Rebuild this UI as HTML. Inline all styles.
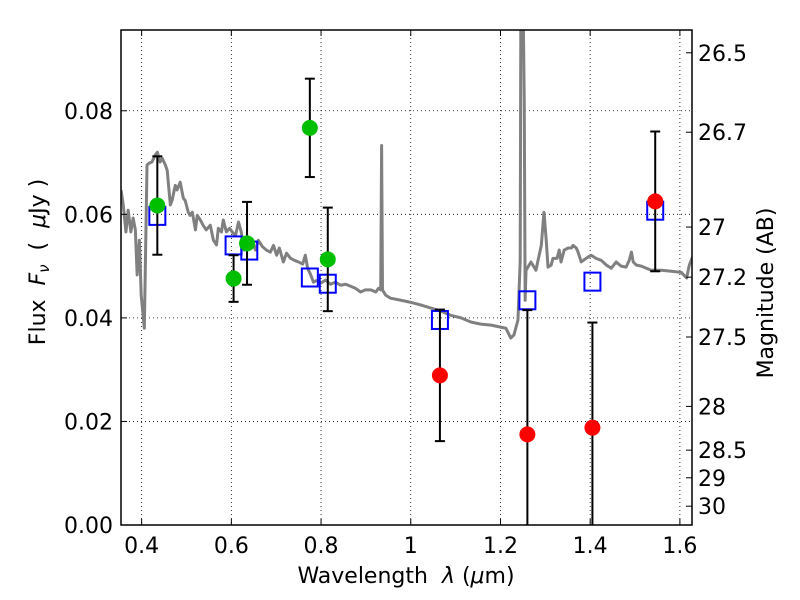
<!DOCTYPE html>
<html><head><meta charset="utf-8"><style>
html,body{margin:0;background:#fff;width:800px;height:600px;overflow:hidden;}
svg text{font-family:"DejaVu Sans","Liberation Sans",sans-serif;}
</style></head><body>
<svg id="c" width="800" height="600" style="position:absolute;left:0;top:0" xmlns="http://www.w3.org/2000/svg"></svg>
<script>
const specLam=[0.354,0.359,0.365,0.370,0.376,0.381,0.386,0.390,0.395,0.399,0.406,0.412,0.417,0.423,0.430,0.435,0.441,0.446,0.453,0.457,0.464,0.468,0.475,0.479,0.486,0.493,0.497,0.504,0.508,0.513,0.520,0.524,0.531,0.537,0.544,0.553,0.560,0.567,0.571,0.578,0.582,0.589,0.596,0.602,0.609,0.616,0.622,0.629,0.634,0.640,0.647,0.654,0.660,0.669,0.678,0.687,0.694,0.701,0.707,0.716,0.723,0.732,0.741,0.750,0.759,0.765,0.770,0.777,0.783,0.792,0.799,0.810,0.821,0.832,0.844,0.855,0.866,0.877,0.888,0.899,0.911,0.922,0.928,0.933,0.935,0.937,0.944,0.955,0.978,1.000,1.022,1.045,1.067,1.089,1.112,1.134,1.156,1.179,1.212,1.223,1.230,1.239,1.244,1.246,1.248,1.253,1.255,1.257,1.268,1.279,1.291,1.297,1.302,1.306,1.313,1.317,1.326,1.331,1.335,1.342,1.351,1.358,1.362,1.369,1.373,1.380,1.391,1.402,1.413,1.425,1.436,1.447,1.458,1.469,1.480,1.487,1.492,1.496,1.503,1.514,1.536,1.559,1.581,1.603,1.615,1.621,1.630];
const specFlux=[0.0647,0.0618,0.0566,0.0608,0.0566,0.0593,0.0570,0.0483,0.0550,0.0444,0.0380,0.0695,0.0699,0.0701,0.0714,0.0720,0.0701,0.0708,0.0695,0.0685,0.0618,0.0627,0.0656,0.0647,0.0662,0.0631,0.0627,0.0604,0.0598,0.0604,0.0570,0.0598,0.0589,0.0579,0.0570,0.0579,0.0550,0.0541,0.0573,0.0566,0.0589,0.0566,0.0573,0.0566,0.0558,0.0585,0.0566,0.0531,0.0544,0.0554,0.0546,0.0531,0.0550,0.0538,0.0531,0.0527,0.0540,0.0521,0.0535,0.0508,0.0525,0.0515,0.0511,0.0508,0.0504,0.0521,0.0496,0.0483,0.0469,0.0473,0.0467,0.0473,0.0465,0.0469,0.0463,0.0465,0.0461,0.0457,0.0450,0.0454,0.0454,0.0450,0.0457,0.0454,0.0733,0.0454,0.0444,0.0438,0.0434,0.0430,0.0425,0.0419,0.0413,0.0405,0.0400,0.0392,0.0388,0.0386,0.0380,0.0361,0.0367,0.0396,0.0511,0.12,0.12,0.082,0.0434,0.0492,0.0508,0.0492,0.0540,0.0604,0.0550,0.0498,0.0502,0.0515,0.0515,0.0531,0.0508,0.0531,0.0535,0.0535,0.0540,0.0535,0.0527,0.0508,0.0515,0.0521,0.0515,0.0511,0.0502,0.0496,0.0508,0.0500,0.0498,0.0511,0.0527,0.0508,0.0502,0.0500,0.0492,0.0492,0.0490,0.0488,0.0477,0.0502,0.0521];
const greenLam=[0.435,0.605,0.635,0.775,0.815];
const greenFlux=[0.0617,0.0476,0.0544,0.0767,0.0513];
const greenErr=[0.0095,0.0045,0.0080,0.0095,0.0100];
const redLam=[1.065,1.26,1.405,1.545];
const redFlux=[0.0289,0.0175,0.0188,0.0625];
const redErr=[0.0127,0.0240,0.0203,0.0135];
const modelLam=[0.435,0.605,0.64,0.775,0.815,1.065,1.26,1.405,1.545];
const modelFlux=[0.0597,0.0540,0.0530,0.0478,0.0466,0.0396,0.0434,0.0470,0.0607];
const xTicks=[0.4,0.6,0.8,1.0,1.2,1.4,1.6];
const xTickLabels=["0.4","0.6","0.8","1","1.2","1.4","1.6"];
const yTicks=[0,0.02,0.04,0.06,0.08];
const yTickLabels=["0.00","0.02","0.04","0.06","0.08"];
const magTicks=[26.5,26.7,27,27.2,27.5,28,28.5,29,30];
const magTickLabels=["26.5","26.7","27","27.2","27.5","28","28.5","29","30"];

const L=121,R=692,T=30,B=525,X0=0.354,X1=1.627,Y0=0,Y1=0.0956;
const sx=v=>L+(v-X0)/(X1-X0)*(R-L);
const sy=v=>B-(v-Y0)/(Y1-Y0)*(B-T);
const magFlux=m=>Math.pow(10,(23.9-m)/2.5);
const svg=document.getElementById('c');
const NS="http://www.w3.org/2000/svg";
function mk(tag,attrs,parent){const e=document.createElementNS(NS,tag);for(const k in attrs)e.setAttribute(k,attrs[k]);(parent||svg).appendChild(e);return e;}

const defs=mk('defs',{});
const cp=mk('clipPath',{id:'clip'},defs);mk('rect',{x:L,y:T,width:R-L,height:B-T},cp);

const grid=mk('g',{});


xTicks.forEach(t=>{mk('line',{x1:sx(t),x2:sx(t),y1:T,y2:B,stroke:'#000','stroke-width':0.8,'stroke-dasharray':'1,3'},grid);});
yTicks.forEach(t=>{mk('line',{x1:L,x2:R,y1:sy(t),y2:sy(t),stroke:'#000','stroke-width':0.8,'stroke-dasharray':'1,3'},grid);});

const sp=mk('polyline',{points:specLam.map((l,i)=>sx(l)+','+sy(specFlux[i])).join(' '),fill:'none',stroke:'#808080','stroke-width':3,'clip-path':'url(#clip)','stroke-linejoin':'round'});



modelLam.forEach((l,i)=>{const r=mk('rect',{x:sx(l)-8,y:sy(modelFlux[i])-9,width:16,height:18,fill:'none',stroke:'#0000ff','stroke-width':2});

});

function pts(lams,fl,er,color,name){
 lams.forEach((l,i)=>{const g=mk('g',{});
 
 
 const x=sx(l),yt=sy(fl[i]+er[i]),yb=sy(Math.max(fl[i]-er[i],0));
 mk('line',{x1:x,x2:x,y1:yt,y2:yb,stroke:'#000','stroke-width':2},g);
 mk('line',{x1:x-5,x2:x+5,y1:yt,y2:yt,stroke:'#000','stroke-width':2},g);
 if(fl[i]-er[i]>0)mk('line',{x1:x-5,x2:x+5,y1:yb,y2:yb,stroke:'#000','stroke-width':2},g);
 mk('circle',{cx:x,cy:sy(fl[i]),r:8,fill:color},g);});
}
pts(greenLam,greenFlux,greenErr,'#00bf00','detection');
pts(redLam,redFlux,redErr,'#ff0000','upper-point');

const fr=mk('rect',{x:L,y:T,width:R-L,height:B-T,fill:'none',stroke:'#000','stroke-width':1.5});



xTicks.forEach((t,i)=>{const x=sx(t);
 mk('line',{x1:x,x2:x,y1:B,y2:B-6,stroke:'#000'});mk('line',{x1:x,x2:x,y1:T,y2:T+6,stroke:'#000'});
 const tx=mk('text',{x:x,y:B+28,'font-size':22,'text-anchor':'middle'});tx.textContent=xTickLabels[i];
 
 });
yTicks.forEach((t,i)=>{const y=sy(t);
 mk('line',{x1:L,x2:L+6,y1:y,y2:y,stroke:'#000'});
 const tx=mk('text',{x:L-8,y:y+8,'font-size':22,'text-anchor':'end'});tx.textContent=yTickLabels[i];
 
 });
magTicks.forEach((m,i)=>{const y=sy(magFlux(m));
 mk('line',{x1:R,x2:R-6,y1:y,y2:y,stroke:'#000'});
 const tx=mk('text',{x:R+6,y:y+8,'font-size':22});tx.textContent=magTickLabels[i];
 
 });
</script>
<svg width="800" height="600" style="position:absolute;left:0;top:0;pointer-events:none" xmlns="http://www.w3.org/2000/svg">
<text x="406" y="583" font-size="22" text-anchor="middle" font-family="DejaVu Sans, Liberation Sans, sans-serif" xml:space="preserve">Wavelength  <tspan font-style="italic">λ</tspan> (<tspan font-style="italic">μ</tspan>m)</text>
<text transform="translate(45,262) rotate(-90)" font-size="22" text-anchor="middle" font-family="DejaVu Sans, Liberation Sans, sans-serif" xml:space="preserve">Flux  <tspan font-style="italic">F</tspan><tspan font-size="15" font-style="italic" dy="4">ν</tspan><tspan dy="-4">  (  </tspan><tspan font-style="italic">μ</tspan>Jy )</text>
<text transform="translate(773,293) rotate(-90)" font-size="22" text-anchor="middle" font-family="DejaVu Sans, Liberation Sans, sans-serif">Magnitude (AB)</text>
</svg>
</body></html>
